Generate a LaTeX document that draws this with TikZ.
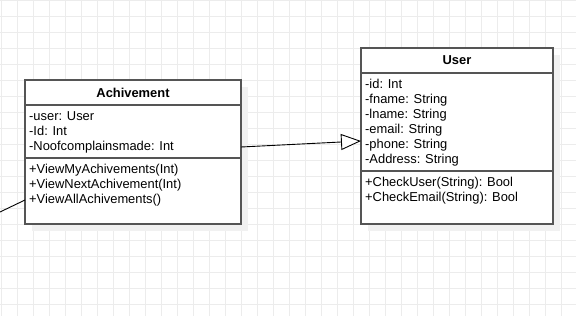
\documentclass[tikz,border=0pt]{standalone}
\usepackage{fontspec}
\setmainfont{Liberation Sans}
\usetikzlibrary{positioning,shadows,arrows.meta}

\definecolor{gridline}{RGB}{236,236,236}
\definecolor{umlline}{RGB}{85,85,85}
\definecolor{shade}{RGB}{241,241,241}

\tikzset{
  part/.style={draw=umlline, line width=1.3pt, fill=white, inner sep=0pt, outer sep=0pt,
    drop shadow={shadow xshift=7pt, shadow yshift=-7pt, fill=shade, opacity=1}},
  title/.style={font=\bfseries\fontsize{12.9}{15}\selectfont, inner sep=0pt},
  members/.style={font=\fontsize{12.9}{15}\selectfont, align=left, inner sep=0pt, anchor=north west},
  inherit/.style={-{Triangle[open, length=20pt, width=16pt, fill=white]}, line width=0.9pt},
}

\begin{document}
\begin{tikzpicture}[x=1pt, y=-1pt]
\useasboundingbox (0,0) rectangle (576,316);
\fill[white] (0,0) rectangle (576,316);
% background grid
\foreach \x in {1.5,17.5,...,577} \draw[gridline, line width=1pt] (\x,0) -- (\x,316);
\foreach \y in {0,16,...,316} \draw[gridline, line width=1pt] (0,\y) -- (576,\y);

% class Achivement
\node[part, anchor=north west, minimum width=216pt, minimum height=25pt] (ach) at (25,80) {};
\node[part, below=0pt of ach.south west, anchor=north west, minimum width=216pt, minimum height=53pt] (ach-fields) {};
\node[part, below=0pt of ach-fields.south west, anchor=north west, minimum width=216pt, minimum height=66pt] (ach-methods) {};
\node[title] (ach-name) at (ach) {Achivement};
\node[members] (ach-fieldtext) at (29,111.5) {-user: User\\-Id: Int\\-Noofcomplainsmade: Int};
\node[members] (ach-methodtext) at (29,164) {+ViewMyAchivements(Int)\\+ViewNextAchivement(Int)\\+ViewAllAchivements()};

% class User
\node[part, anchor=north west, minimum width=192pt, minimum height=25pt] (user) at (361,48) {};
\node[part, below=0pt of user.south west, anchor=north west, minimum width=192pt, minimum height=98pt] (user-fields) {};
\node[part, below=0pt of user-fields.south west, anchor=north west, minimum width=192pt, minimum height=53pt] (user-methods) {};
\node[title] (user-name) at (user) {User};
\node[members] (user-fieldtext) at (365,78.5) {-id: Int\\-fname: String\\-lname: String\\-email: String\\-phone: String\\-Address: String};
\node[members] (user-methodtext) at (365,176.5) {+CheckUser(String): Bool\\+CheckEmail(String): Bool};

% connectors
\coordinate (offleft) at (0,212);
\draw[line width=0.9pt] (offleft) -- ([yshift=-9pt]ach-methods.west);
\draw[inherit] ([yshift=-15.5pt]ach-fields.east) -- ([yshift=-19pt]user-fields.west);
\end{tikzpicture}
\end{document}
